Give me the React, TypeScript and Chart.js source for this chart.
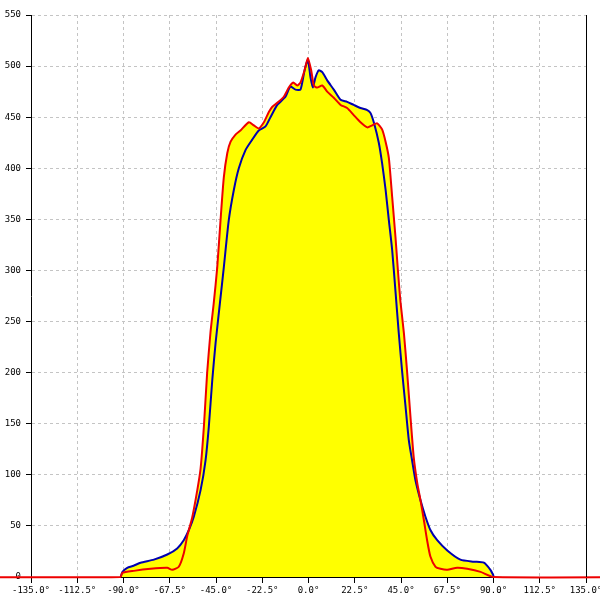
import React, { useEffect, useRef } from "react";
import { Chart, registerables } from "chart.js";

Chart.register(...registerables);

const xTickMin = -135;
const xTickMax = 135;
const xTickStep = 22.5;
const yTickMin = 0;
const yTickMax = 550;
const yTickStep = 50;

const blueAngles = [
  -91.4, -90.5, -88.2, -85.1, -81.7, -75.2, -68.7, -63.9, -60.7, -58.2, -55.8,
  -52.5, -50.1, -48.5, -46.8, -45.2, -43.1, -41.2, -38.8, -36.3, -33.9, -30.6,
  -27.4, -24.2, -20.9, -18.5, -15.2, -11.2, -8.8, -6.3, -3.9, -1.9, -0.3, 0.97,
  2.1, 3.4, 5.0, 6.7, 9.1, 12.3, 15.6, 18.8, 22.0, 25.3, 28.6, 30.2, 31.9, 34.2,
  35.8, 37.5, 39.1, 40.7, 42.3, 43.9, 45.6, 47.2, 48.8, 50.4, 52.0, 54.5, 56.9,
  59.3, 62.6, 67.5, 73.9, 80.4, 85.3, 88.5, 90.1,
];
const blueValues = [
  0, 5, 9, 11, 14, 17, 22, 28, 36, 46, 59,
  85, 114, 147, 193, 229, 268, 303, 349, 379, 400, 418,
  428, 437, 441, 450, 462, 470, 480, 477, 477, 496, 506, 489,
  479, 489, 496, 494, 486, 477, 467, 465, 462, 459, 457, 454, 444, 425,
  405, 379, 349, 320, 280, 239, 200, 167, 134, 114, 95, 75, 59,
  46, 36, 26, 17, 15, 14, 7, 1,
];

const redAngles = [
  -180, -91.5, -90.6, -85.0, -76.8, -68.7, -66.3, -63.1, -60.7, -59.0, -56.6,
  -54.1, -52.5, -50.9, -49.3, -47.7, -46.1, -44.4, -42.8, -41.2, -39.5, -37.9,
  -35.5, -33.1, -29.0, -26.6, -24.2, -21.7, -19.3, -17.7, -15.2, -12.0, -9.6,
  -7.4, -5.5, -3.9, -1.9, -0.3, 1.3, 2.6, 4.2, 6.7, 9.1, 12.3, 15.6, 18.8,
  22.0, 25.3, 28.6, 31.0, 33.4, 35.8, 37.5, 39.1, 40.7, 42.3, 43.5, 44.7,
  46.4, 48.0, 49.6, 51.2, 52.9, 54.5, 56.1, 57.7, 59.3, 61.8, 64.2, 67.5,
  72.3, 77.2, 83.7, 90.1, 180,
];
const redValues = [
  0, 0, 4, 6, 8, 9, 7, 10, 23, 40, 58,
  85, 106, 147, 200, 239, 268, 303, 349, 391, 415, 426,
  433, 437, 445, 442, 439, 445, 455, 460, 464, 470, 479,
  484, 481, 484, 496, 508, 496, 481, 479, 481, 475, 469, 462, 459,
  452, 445, 440, 442, 444, 438, 426, 410, 372, 333, 300, 270,
  239, 200, 157, 117, 92, 75, 56, 36, 20, 10, 8, 7,
  9, 8, 5, 0, 0,
];

const toPoints = (xs: number[], ys: number[]) => xs.map((x, i) => ({ x, y: ys[i] }));

const rightBorder = {
  id: "rightBorder",
  afterDatasetsDraw(chart: any) {
    const { ctx, chartArea } = chart;
    ctx.save();
    ctx.strokeStyle = "#000000";
    ctx.lineWidth = 1;
    ctx.beginPath();
    ctx.moveTo(Math.round(chartArea.right) + 0.5, chartArea.top);
    ctx.lineTo(Math.round(chartArea.right) + 0.5, chartArea.bottom);
    ctx.stroke();
    ctx.restore();
  },
};

export default function App() {
  const ref = useRef<HTMLCanvasElement | null>(null);
  useEffect(() => {
    if (!ref.current) return;
    const font = { family: "'DejaVu Sans Mono', monospace", size: 9 };
    const chart = new Chart(ref.current, {
      type: "line",
      data: {
        datasets: [
          {
            label: "red",
            data: toPoints(redAngles, redValues),
            borderColor: "#ee0000",
            borderWidth: 2,
            backgroundColor: "#ffff00",
            fill: "origin",
            pointRadius: 0,
            tension: 0.2,
            clip: false as any,
          },
          {
            label: "blue",
            data: toPoints(blueAngles, blueValues),
            borderColor: "#0000b0",
            borderWidth: 2,
            backgroundColor: "#ffff00",
            fill: "origin",
            pointRadius: 0,
            tension: 0.2,
          },
        ],
      },
      options: {
        animation: false,
        responsive: false,
        layout: { padding: { top: 15, right: 14, left: 0, bottom: 0 } },
        plugins: {
          legend: { display: false },
          tooltip: { enabled: false },
          filler: { drawTime: "beforeDatasetsDraw" } as any,
        },
        scales: {
          x: {
            type: "linear",
            min: xTickMin,
            max: xTickMax,
            ticks: {
              stepSize: xTickStep,
              font,
              color: "#000000",
              padding: 2,
              maxRotation: 0,
              autoSkip: false,
              callback: (v: any) => Number(v).toFixed(1) + "°",
            },
            grid: {
              color: "#c4c4c4",
              tickColor: "#000000",
              tickLength: 6,
              tickBorderDash: [],
            } as any,
            border: { color: "#000000", width: 1, dash: [3, 3] },
            afterFit: (s: any) => {
              s.height = 23;
              s.paddingLeft = 0;
              s.paddingRight = 0;
            },
          },
          y: {
            type: "linear",
            min: yTickMin,
            max: yTickMax,
            ticks: {
              stepSize: yTickStep,
              font,
              color: "#000000",
              padding: 5,
            },
            grid: {
              color: "#c4c4c4",
              tickColor: "#000000",
              tickLength: 5,
              tickBorderDash: [],
            } as any,
            border: { color: "#000000", width: 1, dash: [3, 3] },
            afterFit: (s: any) => {
              s.width = 31;
              s.paddingTop = 0;
              s.paddingBottom = 0;
            },
          },
        },
      },
      plugins: [rightBorder],
    });
    return () => chart.destroy();
  }, []);
  return (
    <div style={{ position: "fixed", left: 0, top: 0, width: 600, height: 600, background: "#ffffff" }}>
      <canvas ref={ref} width={600} height={600} style={{ display: "block" }} />
    </div>
  );
}
